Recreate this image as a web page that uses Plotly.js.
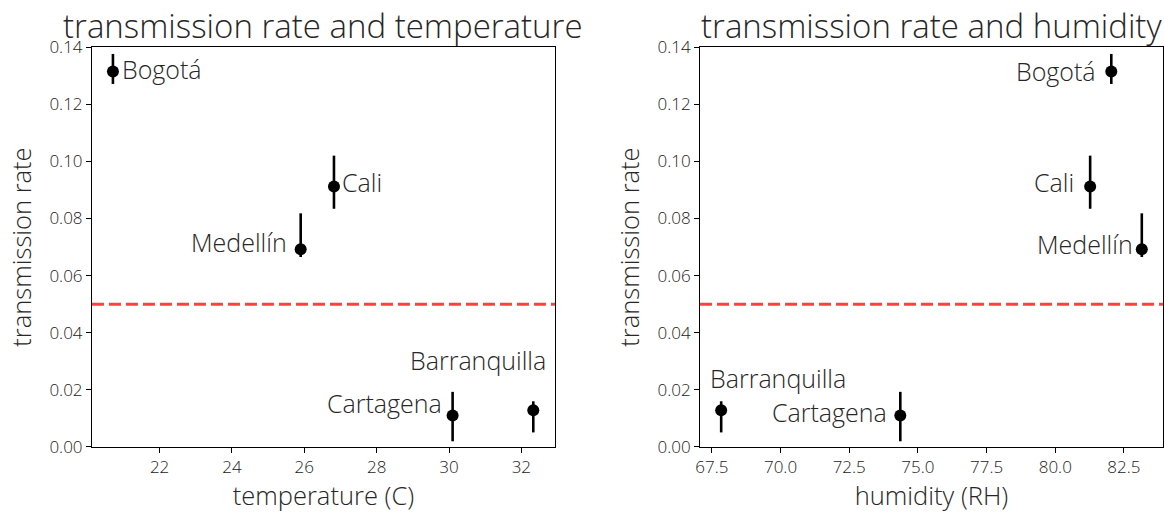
<!DOCTYPE html>
<html>
<head>
<meta charset="utf-8">
<script src="https://cdn.plot.ly/plotly-3.0.1.min.js"></script>
<style>html,body{margin:0;padding:0;background:#fff}#chart{width:1164px;height:512px}</style>
</head>
<body>
<div id="chart"></div>
<script>
const cities = ["Bogotá", "Medellín", "Cali", "Cartagena", "Barranquilla"];
const temperature = [20.71, 25.9, 26.82, 30.1, 32.33];
const humidity = [82.04, 83.15, 81.27, 74.36, 67.84];
const rate = [0.1315, 0.0692, 0.0912, 0.011, 0.0129];
const rateUpper = [0.1376, 0.0818, 0.102, 0.0193, 0.016];
const rateLower = [0.1271, 0.0665, 0.0834, 0.002, 0.0051];
const threshold = 0.05;
const titles = ["transmission rate and temperature", "transmission rate and humidity"];
const xTitles = ["temperature (C)", "humidity (RH)"];
const yTitle = "transmission rate";

const errPlus = rate.map((v, i) => rateUpper[i] - v);
const errMinus = rate.map((v, i) => v - rateLower[i]);

const FONT = "Open Sans, sans-serif";
const TXT = "#262626";

function trace(xs, xa, ya) {
  return {
    x: xs, y: rate, xaxis: xa, yaxis: ya, type: "scatter", mode: "markers",
    marker: {color: "black", size: 12},
    error_y: {type: "data", symmetric: false, array: errPlus, arrayminus: errMinus,
              color: "black", thickness: 2.6, width: 0},
    showlegend: false, hoverinfo: "skip"
  };
}

// label placement: [xanchor, xshift, yoffset in data]
const leftLabels = {
  "Bogotá": ["left", 7, 0.0008],
  "Cali": ["left", 6, 0.0017],
  "Medellín": ["right", -12, 0.0026],
  "Cartagena": ["right", -9, 0.0045],
  "Barranquilla": ["right", 15, 0.0177]
};
const rightLabels = {
  "Bogotá": ["right", -13, 0.0],
  "Cali": ["right", -14, 0.0017],
  "Medellín": ["right", -7, 0.002],
  "Cartagena": ["right", -11, 0.0011],
  "Barranquilla": ["left", -13, 0.0111]
};

const annotations = [];
function addLabels(xs, labels, xref, yref) {
  cities.forEach((c, i) => {
    const p = labels[c];
    annotations.push({
      x: xs[i], y: rate[i] + p[2], xref: xref, yref: yref, text: c,
      xanchor: p[0], yanchor: "middle", xshift: p[1], showarrow: false,
      font: {family: FONT, size: 25, color: TXT, weight: 300}
    });
  });
}
addLabels(temperature, leftLabels, "x", "y");
addLabels(humidity, rightLabels, "x2", "y2");

// titles
[[0.0790, 0.4768], [0.6014, 0.9991]].forEach((d, k) => {
  annotations.push({
    x: (d[0] + d[1]) / 2, y: 1, xref: "paper", yref: "paper", xanchor: "center", yanchor: "top",
    yshift: -1, text: titles[k], showarrow: false,
    font: {family: FONT, size: 33, color: TXT, weight: 300}
  });
});

const axisCommon = {
  showline: true, mirror: true, linecolor: "#000", linewidth: 1,
  ticks: "outside", ticklen: 5, tickwidth: 1, tickcolor: "#000",
  showgrid: false, zeroline: false,
  tickfont: {family: FONT, size: 17, color: "#1a1a1a", weight: 300}
};
const axTitleFont = {family: FONT, size: 25.5, color: TXT, weight: 300};

const layout = {
  width: 1164, height: 512,
  margin: {l: 0, r: 0, t: 0, b: 0},
  paper_bgcolor: "#fff", plot_bgcolor: "#fff",
  font: {family: FONT},
  xaxis: Object.assign({}, axisCommon, {
    domain: [0.0790, 0.4768], range: [20.13, 32.93], tick0: 22, dtick: 2, anchor: "y",
    title: {text: xTitles[0], font: axTitleFont, standoff: 4}
  }),
  yaxis: Object.assign({}, axisCommon, {
    domain: [0.127, 0.908], range: [0, 0.14], dtick: 0.02, tickformat: ".2f", anchor: "x",
    title: {text: yTitle, font: axTitleFont, standoff: 10}
  }),
  xaxis2: Object.assign({}, axisCommon, {
    domain: [0.6014, 0.9991], range: [67.07, 83.92], tick0: 67.5, dtick: 2.5, tickformat: ".1f", anchor: "y2",
    title: {text: xTitles[1], font: axTitleFont, standoff: 4}
  }),
  yaxis2: Object.assign({}, axisCommon, {
    domain: [0.127, 0.908], range: [0, 0.14], dtick: 0.02, tickformat: ".2f", anchor: "x2",
    title: {text: yTitle, font: axTitleFont, standoff: 10}
  }),
  shapes: [
    {type: "line", xref: "x domain", yref: "y", x0: 0, x1: 1, y0: threshold, y1: threshold,
     line: {color: "rgba(255,0,0,0.75)", width: 3, dash: "12px,5px"}, layer: "below"},
    {type: "line", xref: "x2 domain", yref: "y2", x0: 0, x1: 1, y0: threshold, y1: threshold,
     line: {color: "rgba(255,0,0,0.75)", width: 3, dash: "12px,5px"}, layer: "below"}
  ],
  annotations: annotations
};

Plotly.newPlot("chart", [trace(temperature, "x", "y"), trace(humidity, "x2", "y2")], layout,
  {displayModeBar: false, staticPlot: true});
</script>
</body>
</html>
